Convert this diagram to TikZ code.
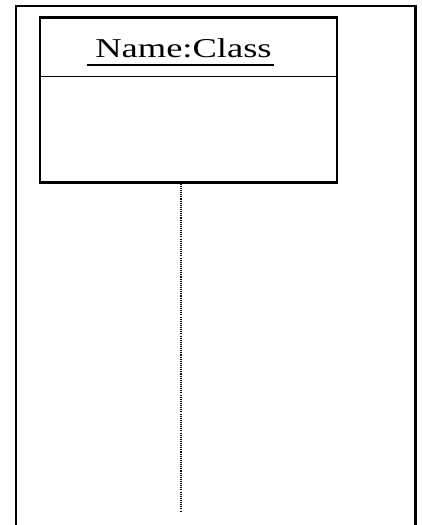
\documentclass[tikz,border=0pt]{standalone}
\usepackage{fontspec}
\setmainfont{Liberation Serif}
\usetikzlibrary{positioning}

\begin{document}
\begin{tikzpicture}[x=0.02cm,y=-0.02cm,
        frame/.style={line width=1.3pt},
        objbox/.style={draw,line width=1.4pt,minimum width=5.94cm,
                       minimum height=3.3cm,inner sep=0pt},
        divider/.style={line width=1pt},
        lifeline/.style={line width=0.8pt,dash pattern=on 0.6pt off 0.6pt}]
      \useasboundingbox (0,0) rectangle (422,525);
      % frame
      \coordinate (fl) at (15.7,525);
      \coordinate (tr) at (415.5,6);
      \coordinate (fr) at (415.5,525);
      \draw[frame] (fl) |- (tr) -- (fr);
      % object box
      \node[objbox] (obj) at (188.5,100) {};
      \coordinate (div) at (0,76.5);
      \draw[divider] (obj.west |- div) -- (obj.east |- div);
      % name
      \node[font=\fontsize{15.5}{18}\selectfont,inner sep=0pt,anchor=base]
           (name) at (183.5,57) {\scalebox{1.34}[1]{Name:Class}};
      \draw[line width=1.2pt] ([xshift=-0.16cm,yshift=-4.6pt]name.base west)
           -- ([xshift=0.04cm,yshift=-4.6pt]name.base east);
      % lifeline
      \coordinate (end) at (181,511.5);
      \draw[lifeline] (obj.south -| end) -- (end);
    \end{tikzpicture}
\end{document}
